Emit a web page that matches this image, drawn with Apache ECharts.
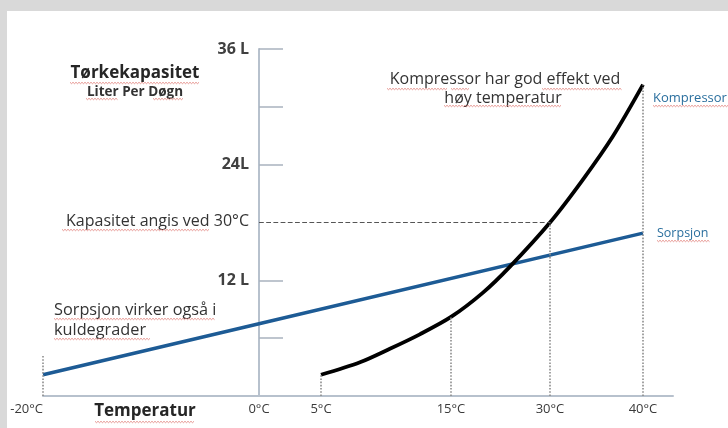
<!DOCTYPE html>
<html>
<head>
<meta charset="utf-8">
<script src="https://cdn.jsdelivr.net/npm/echarts@6/dist/echarts.min.js"></script>
<style>
html,body{margin:0;padding:0;background:#fff;}
#chart{width:728px;height:428px;}
</style>
</head>
<body>
<div id="chart"></div>
<script>
// ---- data ----
const xTickTemps = [-20, 0, 5, 15, 30, 40];
const xTickLabels = ['-20°C', '0°C', '5°C', '15°C', '30°C', '40°C'];
const yTickValues = [6, 12, 24, 30, 36];
const yLabelValues = [12, 24, 36];
const yLabelTexts = ['12 L', '24L', '36 L'];
// Kompressor curve: [temperature °C, liter per døgn]
const kompressorTemps = [5, 8, 10.3, 12.6, 15, 19.8, 23.9, 30, 33.5, 36.8, 40];
const kompressorValues = [2.2, 3.5, 4.9, 6.4, 8.2, 10.7, 13.4, 18.0, 22.4, 27.0, 32.3];
// Sorpsjon line
const sorpsjonTemps = [-20, 0, 40];
const sorpsjonValues = [2.2, 7.5, 16.9];
// dotted guide lines (temperature, top value)
const guideTemps = [-20, 5, 15, 30, 40];
const guideTops = [4.25, 2.2, 8.2, 18, 32.3];
const ratedTemp = 30;
const ratedValue = 18;

// ---- schematic (non-uniform) temperature scale ----
const axisStops = [-36, 0, 10.33, 32, 48.5, 64];
function toAxis(t) {
  for (let i = 0; i < xTickTemps.length - 1; i++) {
    const a = xTickTemps[i], b = xTickTemps[i + 1];
    if (t <= b || i === xTickTemps.length - 2) {
      return axisStops[i] + (t - a) / (b - a) * (axisStops[i + 1] - axisStops[i]);
    }
  }
}
const xTickUnits = xTickTemps.map(toAxis);

const FONT = '"Open Sans", Lato, sans-serif';
const chart = echarts.init(document.getElementById('chart'));

function wavy(x1, x2, y) {
  const pts = [];
  let up = true;
  for (let x = x1; x <= x2; x += 1.5) { pts.push([x, y + (up ? -0.7 : 0.7)]); up = !up; }
  return { type: 'polyline', silent: true, shape: { points: pts }, style: { stroke: '#e07a74', lineWidth: 0.8, fill: null } };
}
function txt(text, x, y, font, fill, align) {
  return { type: 'text', silent: true, style: { text, x, y, font, fill: fill || '#333', textAlign: align || 'left', textVerticalAlign: 'middle' } };
}

const guideLines = guideTemps.map((t, i) => [{ coord: [toAxis(t), 0] }, { coord: [toAxis(t), guideTops[i]] }]);

const option = {
  animation: false,
  backgroundColor: '#ffffff',
  grid: { left: 43, right: 55, top: 49, bottom: 32, containLabel: false },
  xAxis: {
    type: 'value', min: -36, max: 69,
    splitLine: { show: false },
    axisLine: { show: true, lineStyle: { color: '#b7c1cd', width: 2 } },
    axisTick: { show: false },
    axisLabel: {
      customValues: xTickUnits,
      alignMinLabel: 'right',
      margin: 7,
      color: '#3a3a3a', fontSize: 13, fontWeight: 500, fontFamily: FONT,
      formatter: v => { const i = xTickUnits.findIndex(u => Math.abs(u - v) < 0.01); return i >= 0 ? xTickLabels[i] : ''; }
    }
  },
  yAxis: {
    type: 'value', min: 0, max: 36,
    offset: -216,
    splitLine: { show: false },
    axisLine: { show: true, onZero: false, lineStyle: { color: '#b7c1cd', width: 2 } },
    axisTick: { show: true, inside: true, length: 24, customValues: yTickValues, lineStyle: { color: '#a9b3bf', width: 1.5 } },
    axisLabel: {
      customValues: yLabelValues, margin: 10,
      color: '#404040', fontSize: 16, fontWeight: 'bold', fontFamily: FONT,
      formatter: v => { const i = yLabelValues.indexOf(v); return i >= 0 ? yLabelTexts[i] : ''; }
    }
  },
  series: [
    {
      name: 'guides', type: 'line', data: [], silent: true,
      markLine: {
        silent: true, symbol: 'none', label: { show: false },
        lineStyle: { type: 'dotted', color: '#8d8d8d', width: 1.6 },
        data: guideLines.concat([[
          { coord: [0, ratedValue], lineStyle: { type: 'dashed', color: '#555', width: 1.2 } },
          { coord: [toAxis(ratedTemp), ratedValue] }
        ]])
      }
    },
    {
      name: 'Sorpsjon', type: 'line', showSymbol: false, silent: true,
      lineStyle: { color: '#1d5b95', width: 3.5 },
      data: sorpsjonTemps.map((t, i) => [toAxis(t), sorpsjonValues[i]])
    },
    {
      name: 'Kompressor', type: 'line', showSymbol: false, silent: true, smooth: 0.3,
      lineStyle: { color: '#000000', width: 3.8 },
      data: kompressorTemps.map((t, i) => [toAxis(t), kompressorValues[i]])
    }
  ],
  graphic: [
    { type: 'rect', silent: true, shape: { x: 0, y: 0, width: 728, height: 11 }, style: { fill: '#d9d9d9' } },
    { type: 'rect', silent: true, shape: { x: 0, y: 0, width: 7, height: 428 }, style: { fill: '#d9d9d9' } },
    txt('Tørkekapasitet', 135, 73, 'bold 17px ' + FONT, '#262626', 'center'),
    txt('Liter Per Døgn', 135, 92, 'bold 13.5px ' + FONT, '#333', 'center'),
    txt('Kompressor har god effekt ved', 505, 79, '16px ' + FONT, '#333', 'center'),
    txt('høy temperatur', 503, 98, '16px ' + FONT, '#333', 'center'),
    txt('Kompressor', 653, 98, '13px ' + FONT, '#2a6f9e', 'left'),
    txt('Sorpsjon', 657, 233, '12.5px ' + FONT, '#2a6f9e', 'left'),
    txt('Kapasitet angis ved 30°C', 249, 221, '16px ' + FONT, '#333', 'right'),
    txt('Sorpsjon virker også i', 54, 310, '16.3px ' + FONT, '#333', 'left'),
    txt('kuldegrader', 54, 330, '16.3px ' + FONT, '#333', 'left'),
    txt('Temperatur', 145, 411, 'bold 17px ' + FONT, '#262626', 'center'),
    wavy(70, 200, 83), wavy(86, 118, 99), wavy(153, 183, 99),
    wavy(387, 447, 89), wavy(451, 470, 89), wavy(542, 622, 89),
    wavy(444, 561, 106), wavy(653, 728, 106), wavy(657, 710, 241),
    wavy(62, 210, 230), wavy(54, 215, 319), wavy(54, 150, 339), wavy(95, 195, 422)
  ]
};
chart.setOption(option);
</script>
</body>
</html>
